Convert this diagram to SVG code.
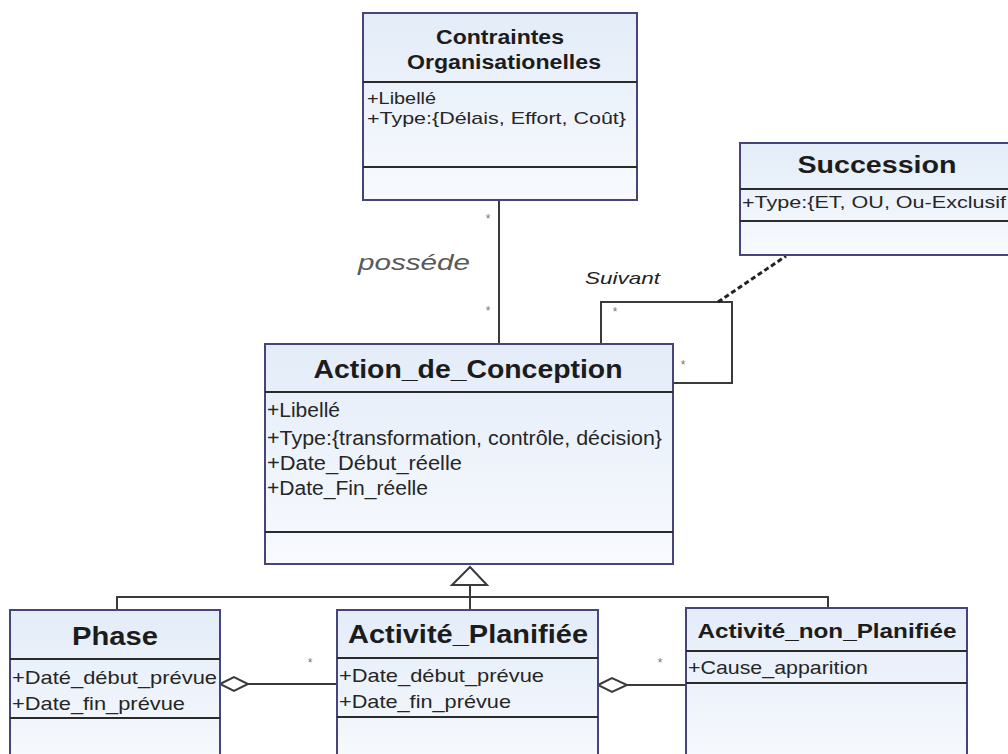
<svg xmlns="http://www.w3.org/2000/svg" width="1008" height="754" viewBox="0 0 1008 754">
<defs>
<linearGradient id="fill" x1="0" y1="0" x2="0" y2="1">
<stop offset="0" stop-color="#e3ecf8"/>
<stop offset="1" stop-color="#f8fafe"/>
</linearGradient>
<style>
.box{fill:url(#fill);stroke:#45457c;stroke-width:2}
.div{stroke:#2b2b2b;stroke-width:2}
.ttl{font-family:"Liberation Sans",Arial,sans-serif;font-weight:bold;fill:#1c1c1c;text-anchor:middle}
.att{font-family:"Liberation Sans",Arial,sans-serif;fill:#262626}
.ln{stroke:#3a3a3a;stroke-width:2;fill:none}
.mul{font-family:"Liberation Sans",Arial,sans-serif;font-size:12px;fill:#777}
.lbl{font-family:"Liberation Sans",Arial,sans-serif;font-style:italic}
</style>
</defs>
<rect width="1008" height="754" fill="#ffffff"/>

<g id="connectors">
<line class="ln" x1="499" y1="200" x2="499" y2="344"/>
<polyline class="ln" points="601,344 601,302 732,302 732,383 673,383"/>
<line x1="718" y1="302" x2="786" y2="256" stroke="#222" stroke-width="3" stroke-dasharray="5 3"/>
<polyline class="ln" points="117,610 117,597 828,597 828,608"/>
<line class="ln" x1="470" y1="585" x2="470" y2="610"/>
<polygon points="470,567 452,585 487,585" fill="#ffffff" stroke="#3a3a3a" stroke-width="2"/>
<line class="ln" x1="248" y1="684" x2="337" y2="684"/>
<polygon points="220,684 234,677 248,684 234,691" fill="#ffffff" stroke="#3a3a3a" stroke-width="2"/>
<line class="ln" x1="627" y1="685" x2="686" y2="685"/>
<polygon points="598,685 612,678 627,685 612,692" fill="#ffffff" stroke="#3a3a3a" stroke-width="2"/>
<text class="mul" x="488" y="223" text-anchor="middle">*</text>
<text class="mul" x="488" y="315" text-anchor="middle">*</text>
<text class="mul" x="615" y="316" text-anchor="middle">*</text>
<text class="mul" x="683" y="369" text-anchor="middle">*</text>
<text class="mul" x="310" y="667" text-anchor="middle">*</text>
<text class="mul" x="660" y="667" text-anchor="middle">*</text>
<text class="lbl" x="358" y="270" font-size="22" fill="#5a5a5a" textLength="112" lengthAdjust="spacingAndGlyphs">posséde</text>
<text class="lbl" x="585" y="284" font-size="17" fill="#222" textLength="75" lengthAdjust="spacingAndGlyphs">Suivant</text>
</g>

<g id="contraintes">
<rect class="box" x="363" y="13" width="274" height="187"/>
<line class="div" x1="363" y1="82" x2="637" y2="82"/>
<line class="div" x1="363" y1="167" x2="637" y2="167"/>
<text class="ttl" x="500" y="44" font-size="20" textLength="128" lengthAdjust="spacingAndGlyphs">Contraintes</text>
<text class="ttl" x="504" y="69" font-size="20" textLength="194" lengthAdjust="spacingAndGlyphs">Organisationelles</text>
<text class="att" x="367" y="104" font-size="17" textLength="69" lengthAdjust="spacingAndGlyphs">+Libellé</text>
<text class="att" x="367" y="124" font-size="17" textLength="259" lengthAdjust="spacingAndGlyphs">+Type:{Délais, Effort, Coût}</text>
</g>

<g id="succession">
<rect class="box" x="740" y="143" width="290" height="112"/>
<line class="div" x1="740" y1="189" x2="1008" y2="189"/>
<line class="div" x1="740" y1="221" x2="1008" y2="221"/>
<text class="ttl" x="877" y="173" font-size="23" textLength="159" lengthAdjust="spacingAndGlyphs">Succession</text>
<text class="att" x="742" y="208" font-size="17" textLength="264" lengthAdjust="spacingAndGlyphs">+Type:{ET, OU, Ou-Exclusif</text>
</g>

<g id="action">
<rect class="box" x="265" y="344" width="408" height="220"/>
<line class="div" x1="265" y1="392" x2="673" y2="392"/>
<line class="div" x1="265" y1="532" x2="673" y2="532"/>
<text class="ttl" x="468" y="378" font-size="26" textLength="309" lengthAdjust="spacingAndGlyphs">Action_de_Conception</text>
<text class="att" x="267" y="417" font-size="20" textLength="73" lengthAdjust="spacingAndGlyphs">+Libellé</text>
<text class="att" x="267" y="445" font-size="20" textLength="395" lengthAdjust="spacingAndGlyphs">+Type:{transformation, contrôle, décision}</text>
<text class="att" x="267" y="470" font-size="20" textLength="195" lengthAdjust="spacingAndGlyphs">+Date_Début_réelle</text>
<text class="att" x="267" y="495" font-size="20" textLength="161" lengthAdjust="spacingAndGlyphs">+Date_Fin_réelle</text>
</g>

<g id="phase">
<rect class="box" x="10" y="610" width="210" height="160"/>
<line class="div" x1="10" y1="659" x2="220" y2="659"/>
<line class="div" x1="10" y1="718" x2="220" y2="718"/>
<text class="ttl" x="115" y="645" font-size="25" textLength="86" lengthAdjust="spacingAndGlyphs">Phase</text>
<text class="att" x="12" y="684" font-size="19" textLength="205" lengthAdjust="spacingAndGlyphs">+Daté_début_prévue</text>
<text class="att" x="12" y="710" font-size="19" textLength="173" lengthAdjust="spacingAndGlyphs">+Date_fin_prévue</text>
</g>

<g id="activite-planifiee">
<rect class="box" x="337" y="610" width="261" height="160"/>
<line class="div" x1="337" y1="658" x2="598" y2="658"/>
<line class="div" x1="337" y1="717" x2="598" y2="717"/>
<text class="ttl" x="468" y="643" font-size="26" textLength="240" lengthAdjust="spacingAndGlyphs">Activité_Planifiée</text>
<text class="att" x="339" y="682" font-size="19" textLength="205" lengthAdjust="spacingAndGlyphs">+Date_début_prévue</text>
<text class="att" x="339" y="708" font-size="19" textLength="172" lengthAdjust="spacingAndGlyphs">+Date_fin_prévue</text>
</g>

<g id="activite-non-planifiee">
<rect class="box" x="686" y="608" width="281" height="160"/>
<line class="div" x1="686" y1="651" x2="967" y2="651"/>
<line class="div" x1="686" y1="683" x2="967" y2="683"/>
<text class="ttl" x="827" y="638" font-size="20" textLength="259" lengthAdjust="spacingAndGlyphs">Activité_non_Planifiée</text>
<text class="att" x="688" y="674" font-size="19" textLength="180" lengthAdjust="spacingAndGlyphs">+Cause_apparition</text>
</g>
</svg>
